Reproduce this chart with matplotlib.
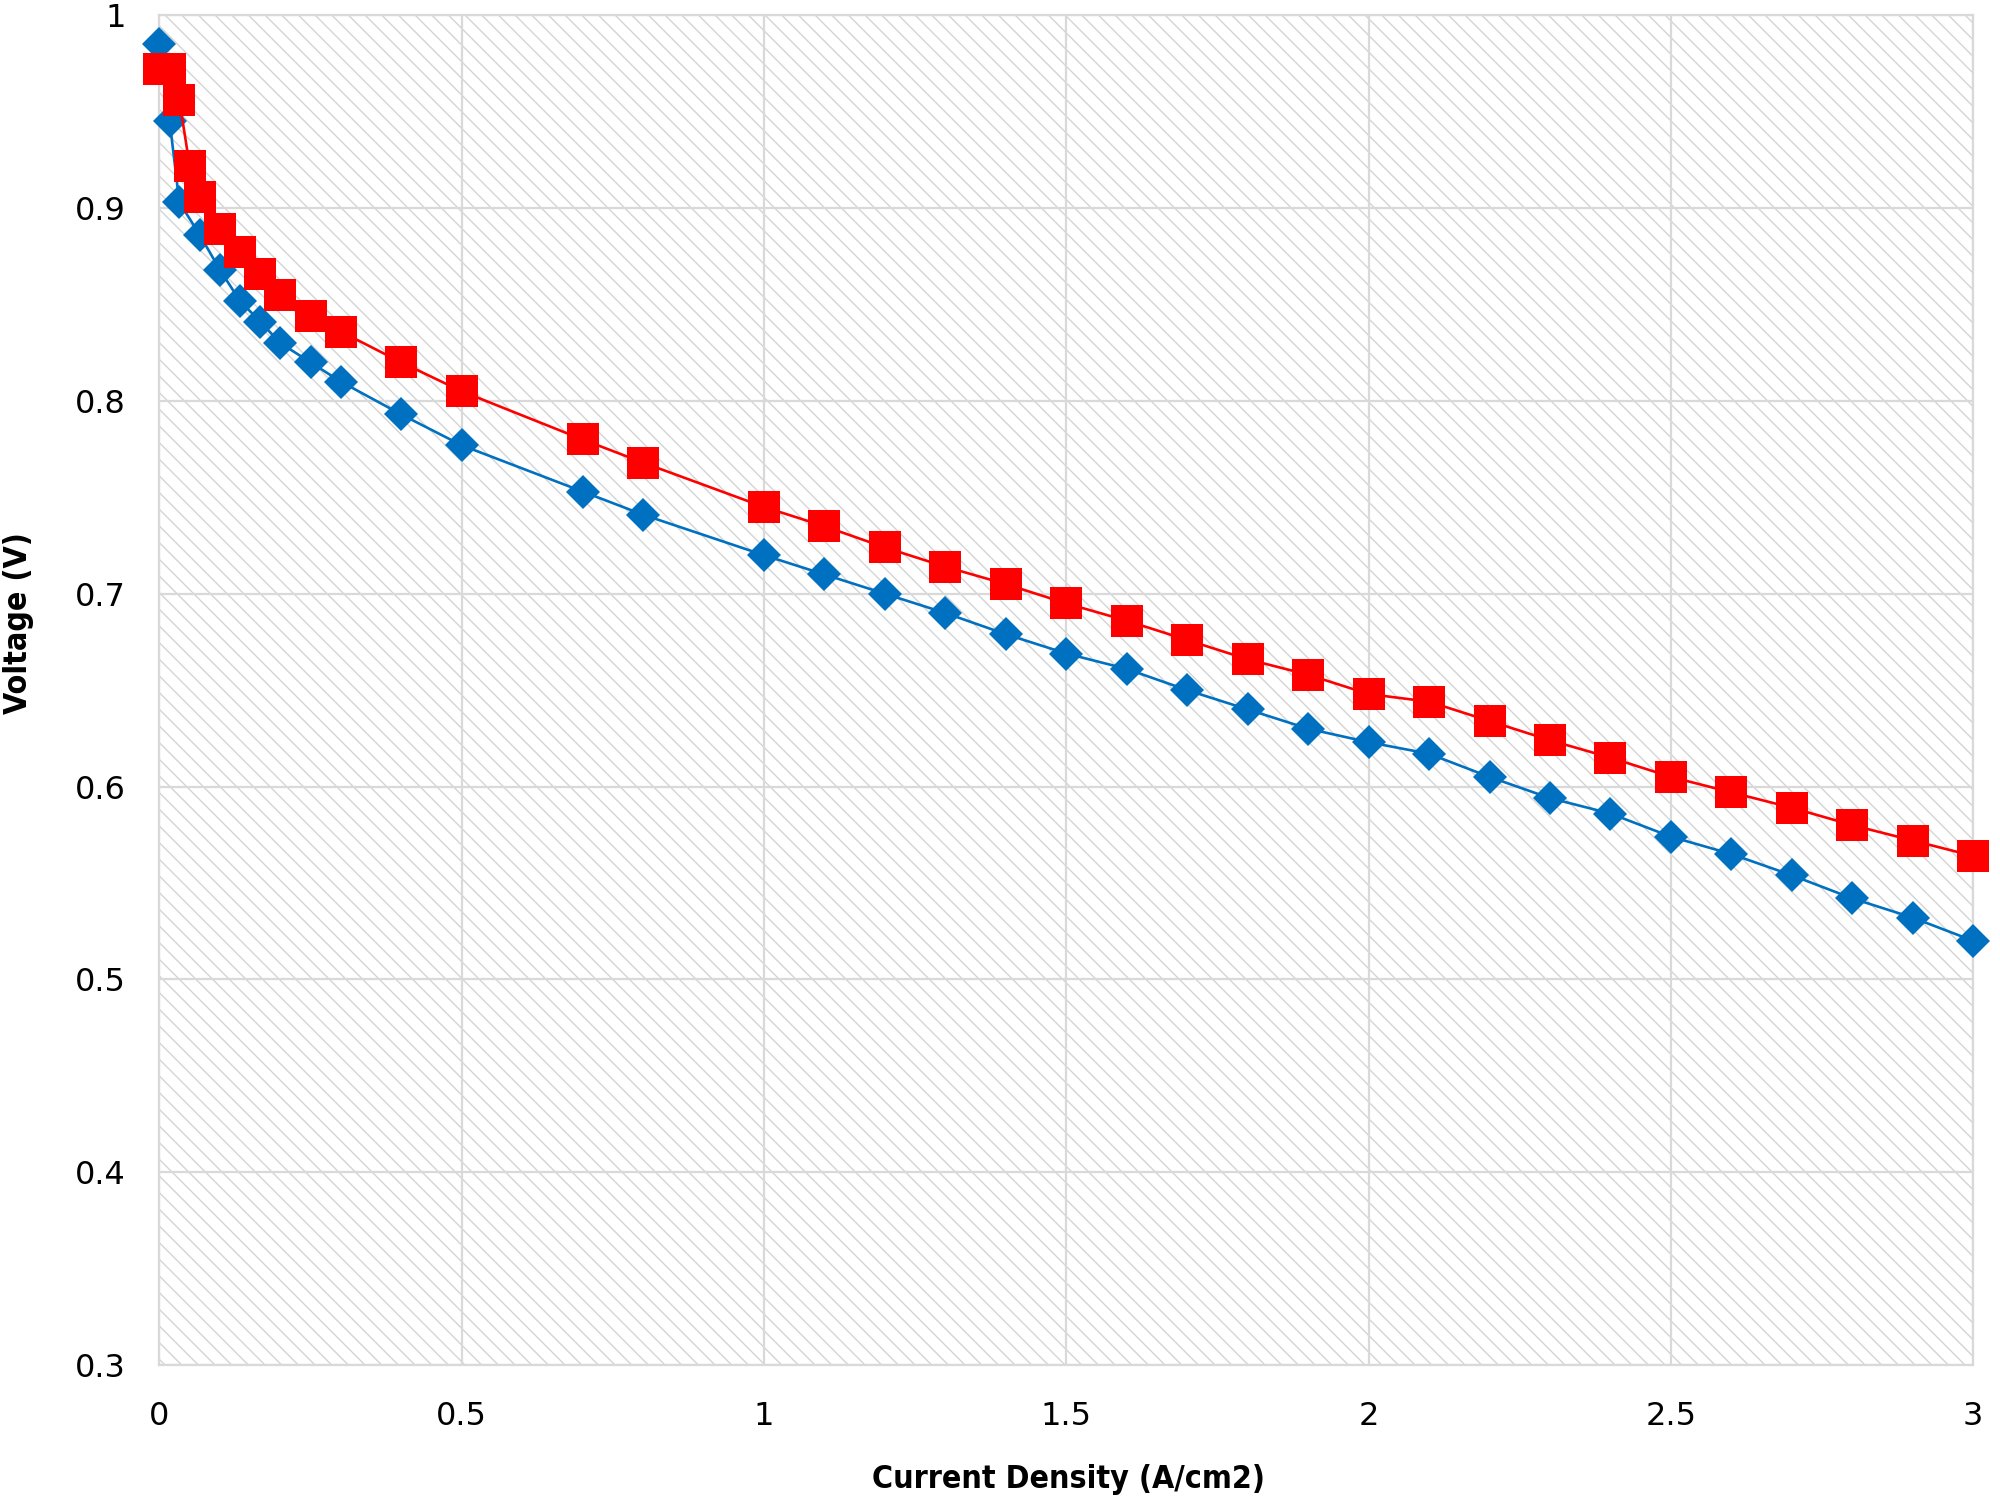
import matplotlib
matplotlib.use("Agg")
import matplotlib.pyplot as plt

# ---- data ----
blue_x = [0, 0.017, 0.033, 0.067, 0.1, 0.133, 0.167, 0.2, 0.25, 0.3, 0.4, 0.5,
          0.7, 0.8, 1.0, 1.1, 1.2, 1.3, 1.4, 1.5, 1.6, 1.7, 1.8, 1.9, 2.0,
          2.1, 2.2, 2.3, 2.4, 2.5, 2.6, 2.7, 2.8, 2.9, 3.0]
blue_y = [0.985, 0.945, 0.903, 0.886, 0.868, 0.852, 0.841, 0.830, 0.820, 0.810,
          0.793, 0.777, 0.753, 0.741, 0.720, 0.710, 0.700, 0.690, 0.679, 0.669,
          0.661, 0.650, 0.640, 0.630, 0.623, 0.617, 0.605, 0.594, 0.586, 0.574,
          0.565, 0.554, 0.542, 0.532, 0.520]

red_x = [0, 0.017, 0.033, 0.05, 0.067, 0.1, 0.133, 0.167, 0.2, 0.25, 0.3, 0.4,
         0.5, 0.7, 0.8, 1.0, 1.1, 1.2, 1.3, 1.4, 1.5, 1.6, 1.7, 1.8, 1.9,
         2.0, 2.1, 2.2, 2.3, 2.4, 2.5, 2.6, 2.7, 2.8, 2.9, 3.0]
red_y = [0.972, 0.972, 0.956, 0.922, 0.906, 0.889, 0.877, 0.866, 0.855, 0.844,
         0.836, 0.820, 0.805, 0.780, 0.768, 0.745, 0.735, 0.724, 0.714, 0.705,
         0.695, 0.686, 0.676, 0.666, 0.658, 0.648, 0.644, 0.634, 0.624, 0.615,
         0.605, 0.597, 0.589, 0.580, 0.572, 0.564]

x_ticks = [0, 0.5, 1, 1.5, 2, 2.5, 3]
x_tick_labels = ["0", "0.5", "1", "1.5", "2", "2.5", "3"]
y_ticks = [0.3, 0.4, 0.5, 0.6, 0.7, 0.8, 0.9, 1.0]
y_tick_labels = ["0.3", "0.4", "0.5", "0.6", "0.7", "0.8", "0.9", "1"]

x_label = "Current Density (A/cm2)"
y_label = "Voltage (V)"

# ---- style ----
plt.rcParams['font.family'] = ['DejaVu Sans']
plt.rcParams['hatch.color'] = '#d4d4d4'
plt.rcParams['hatch.linewidth'] = 1.0

fig = plt.figure(figsize=(20, 15), dpi=100)
ax = fig.add_axes([0.0797, 0.09, 0.9069, 0.8998])

ax.patch.set_facecolor('white')
ax.patch.set_edgecolor('#d4d4d4')
ax.patch.set_hatch('\\\\')
ax.patch.set_linewidth(0)

grid_c = '#d9d9d9'
ax.set_xlim(0, 3)
ax.set_ylim(0.3, 1.0)
ax.set_xticks(x_ticks)
ax.set_xticklabels(x_tick_labels)
ax.set_yticks(y_ticks)
ax.set_yticklabels(y_tick_labels)
ax.grid(True, color=grid_c, linewidth=1.6)
ax.set_axisbelow(True)
for s in ax.spines.values():
    s.set_color(grid_c)
    s.set_linewidth(1.6)

ax.tick_params(axis='both', length=0, labelsize=23, colors='black')
ax.tick_params(axis='x', pad=26)
ax.tick_params(axis='y', pad=24)

ax.plot(blue_x, blue_y, color='#0070C0', linewidth=1.9, marker='D',
        markersize=17, markeredgewidth=0, clip_on=False, zorder=3)
ax.plot(red_x, red_y, color='#FF0000', linewidth=1.9, marker='s',
        markersize=23, markeredgewidth=0, clip_on=False, zorder=4)

ax.set_xlabel(x_label, fontsize=23, fontweight='bold', fontstretch='condensed')
ax.set_ylabel(y_label, fontsize=23, fontweight='bold', fontstretch='condensed')
ax.xaxis.set_label_coords(0.501, -0.073)
ax.yaxis.set_label_coords(-0.069, 0.55)

fig.savefig('out.png', dpi=100)
